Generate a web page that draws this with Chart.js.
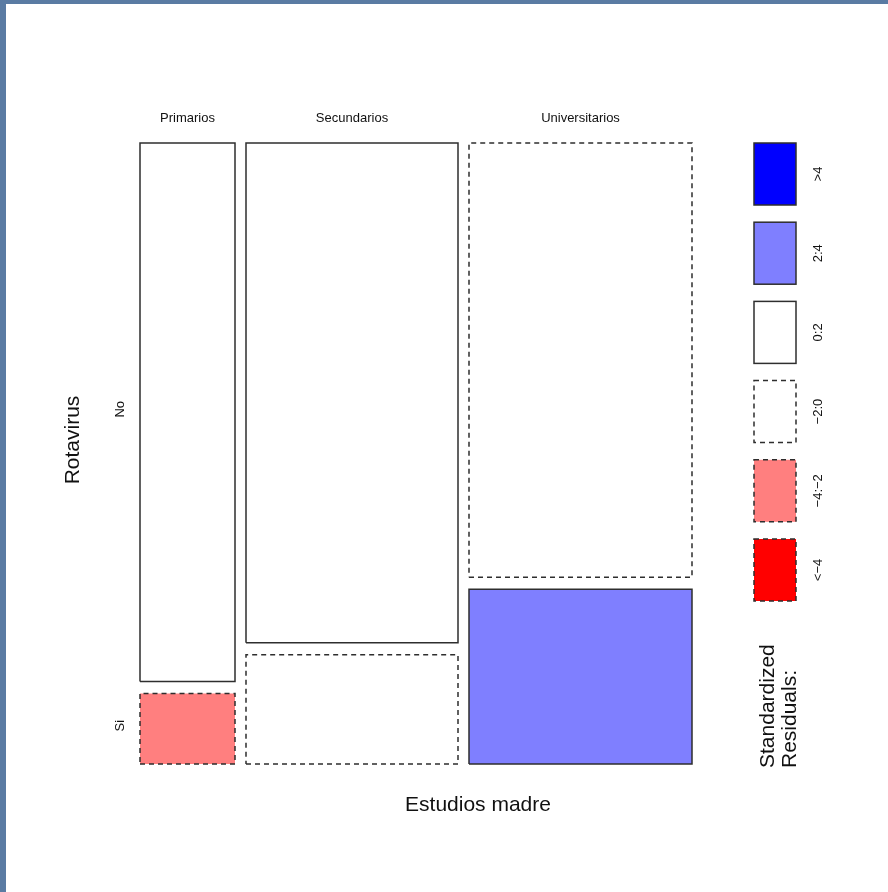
<!DOCTYPE html>
<html>
<head>
<meta charset="utf-8">
<script src="https://cdn.jsdelivr.net/npm/chart.js@4.4.1/dist/chart.umd.min.js"></script>
<style>
  html, body { margin: 0; padding: 0; }
  body { width: 888px; height: 892px; background: #5a7ba3; position: relative; overflow: hidden; }
  #paper { position: absolute; left: 6px; top: 4px; right: 0; bottom: 0; background: #fff; }
  #mosaic { position: absolute; left: 0; top: 0; }
</style>
</head>
<body>
<div id="paper"></div>
<canvas id="mosaic" width="888" height="892"></canvas>
<script>
var categories = ['Primarios', 'Secundarios', 'Universitarios'];
var rowLabels = ['No', 'Si'];
var countsNo = [84, 174, 159];
var countsSi = [11, 38, 64];

// legend of shading
var legendLabels = ['>4', '2:4', '0:2', '\u22122:0', '\u22124:\u22122', '<\u22124'];
var legendColors = ['#0000ff', '#7f7fff', '#ffffff', '#ffffff', '#ff7f7f', '#ff0000'];
var legendDashed = [false, false, false, true, true, true];

var gapX = 11 / 552;
var gapY = 12 / 621;
var dash = [5, 4];
var edge = '#2e2e2e';
var font = '"Liberation Sans", Arial, Helvetica, sans-serif';

function shadeIndex(r) {
	if (r > 4) return 0;
	if (r > 2) return 1;
	if (r >= 0) return 2;
	if (r > -2) return 3;
	if (r > -4) return 4;
	return 5;
}

var total = 0, totalSi = 0;
for (var i = 0; i < categories.length; i++) {
	total += countsNo[i] + countsSi[i];
	totalSi += countsSi[i];
}
var pSi = totalSi / total;

var datasets = [];
var colCenters = [];
var rowCenters = [];
var x0 = 0;
for (var j = 0; j < categories.length; j++) {
	var n = countsNo[j] + countsSi[j];
	var w = (1 - 2 * gapX) * n / total;
	var x1 = x0 + w;
	var ySi = (1 - gapY) * countsSi[j] / n;
	var tiles = [
		{ obs: countsNo[j], exp: n * (1 - pSi), y0: ySi + gapY, y1: 1 },
		{ obs: countsSi[j], exp: n * pSi, y0: 0, y1: ySi }
	];
	for (var k = 0; k < tiles.length; k++) {
		var t = tiles[k];
		var s = shadeIndex((t.obs - t.exp) / Math.sqrt(t.exp));
		datasets.push({
			data: [
				{ x: x0, y: t.y0 }, { x: x1, y: t.y0 },
				{ x: x1, y: t.y1 }, { x: x0, y: t.y1 }, { x: x0, y: t.y0 }
			],
			showLine: true,
			fill: 'shape',
			backgroundColor: legendColors[s],
			borderColor: edge,
			borderWidth: 1.5,
			borderDash: legendDashed[s] ? dash : [],
			pointRadius: 0,
			tension: 0,
			clip: false
		});
		if (j === 0) rowCenters.push((t.y0 + t.y1) / 2);
	}
	colCenters.push((x0 + x1) / 2);
	x0 = x1 + gapX;
}

var labelsPlugin = {
	id: 'labels',
	afterDraw: function(chart) {
		var ctx = chart.ctx;
		var xs = chart.scales.x, ys = chart.scales.y;
		var area = chart.chartArea;
		ctx.save();
		ctx.fillStyle = '#111';
		ctx.textAlign = 'center';
		ctx.textBaseline = 'middle';

		// column labels
		ctx.font = '13px ' + font;
		for (var j = 0; j < categories.length; j++) {
			ctx.fillText(categories[j], xs.getPixelForValue(colCenters[j]), area.top - 25);
		}
		// row labels
		for (var k = 0; k < rowLabels.length; k++) {
			ctx.save();
			ctx.translate(area.left - 20, ys.getPixelForValue(rowCenters[k]) - 3);
			ctx.rotate(-Math.PI / 2);
			ctx.fillText(rowLabels[k], 0, 0);
			ctx.restore();
		}
		// variable names
		ctx.font = '21px ' + font;
		ctx.fillText('Estudios madre', 478, area.bottom + 41);
		ctx.save();
		ctx.translate(area.left - 67, 440);
		ctx.rotate(-Math.PI / 2);
		ctx.fillText('Rotavirus', 0, 0);
		ctx.restore();

		// shading legend
		var lx = 754, lw = 42, lh = 62, ly = 143, step = 79.2;
		for (var i = 0; i < legendLabels.length; i++) {
			var top = ly + i * step;
			ctx.fillStyle = legendColors[i];
			ctx.fillRect(lx, top, lw, lh);
			ctx.strokeStyle = edge;
			ctx.lineWidth = 1.5;
			ctx.setLineDash(legendDashed[i] ? dash : []);
			ctx.strokeRect(lx, top, lw, lh);
			ctx.setLineDash([]);
			ctx.fillStyle = '#111';
			ctx.font = '13px ' + font;
			ctx.save();
			ctx.translate(lx + lw + 22, top + lh / 2);
			ctx.rotate(-Math.PI / 2);
			ctx.fillText(legendLabels[i], 0, 0);
			ctx.restore();
		}
		ctx.font = '21px ' + font;
		ctx.textAlign = 'left';
		ctx.textBaseline = 'alphabetic';
		ctx.save();
		ctx.translate(774, 768);
		ctx.rotate(-Math.PI / 2);
		ctx.fillText('Standardized', 0, 0);
		ctx.fillText('Residuals:', 0, 22);
		ctx.restore();
		ctx.restore();
	}
};

var chart = new Chart(document.getElementById('mosaic'), {
	type: 'scatter',
	data: { datasets: datasets },
	options: {
		responsive: false,
		animation: false,
		layout: { padding: { left: 140, top: 143, right: 196, bottom: 128 } },
		plugins: {
			legend: { display: false },
			tooltip: { enabled: false }
		},
		scales: {
			x: { type: 'linear', min: 0, max: 1, display: false },
			y: { type: 'linear', min: 0, max: 1, display: false }
		}
	},
	plugins: [labelsPlugin]
});
</script>
</body>
</html>
